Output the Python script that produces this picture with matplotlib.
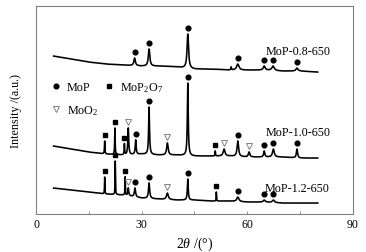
import numpy as np
import matplotlib
matplotlib.use("Agg")
from matplotlib import pyplot as plt
from matplotlib.lines import Line2D

plt.rcParams['font.family'] = ['Liberation Serif', 'DejaVu Serif']
plt.rcParams['mathtext.fontset'] = 'custom'
plt.rcParams['mathtext.rm'] = 'Liberation Serif'
plt.rcParams['mathtext.it'] = 'Liberation Serif:italic'

# 2theta range of the scans
theta_start, theta_end = 5, 80

# baseline anchors (2theta, intensity a.u.)
base_x = [5, 10, 15, 20, 25, 30, 35, 40, 45, 50, 55, 60, 65, 70, 75, 80]
base_08 = [158, 155, 152, 150, 149, 148, 148, 147, 145, 145, 144, 144, 144, 143, 143, 142]
base_10 = [68, 65, 62, 60, 59, 60, 59, 59, 58, 58, 58, 57, 57, 57, 56, 56]
base_12 = [26, 24, 22, 20, 19, 16, 15, 14, 14, 13, 13, 12, 12, 11, 11, 11]

# peaks: position, tip intensity, half width, phase (0 MoP, 1 MoP2O7, 2 MoO2)
pk_08_pos = [28.0, 32.1, 43.1, 55.4, 57.3, 64.8, 67.3, 74.1]
pk_08_tip = [156, 165, 180, 147, 150, 148, 148, 146]
pk_08_w = [0.25, 0.25, 0.25, 0.1, 0.4, 0.3, 0.4, 0.35]
pk_08_phase = [0, 0, 0, -1, 0, 0, 0, 0]

pk_10_pos = [19.5, 22.4, 25.1, 26.2, 28.3, 32.1, 37.3, 43.1, 50.9, 53.4, 57.3, 60.5, 64.8, 67.4, 74.1]
pk_10_tip = [73, 86, 70, 86, 74, 107, 71, 131, 63, 65, 73, 62, 63, 65, 65]
pk_10_w = [0.08, 0.08, 0.08, 0.15, 0.15, 0.15, 0.25, 0.15, 0.08, 0.3, 0.25, 0.25, 0.2, 0.3, 0.2]
pk_10_phase = [1, 1, 1, 2, 0, 0, 2, 0, 1, 2, 0, 2, 0, 0, 0]

pk_12_pos = [19.5, 22.5, 25.3, 26.2, 28.1, 32.1, 37.3, 43.1, 51.2, 57.3, 64.8, 67.4]
pk_12_tip = [37, 53, 37, 26, 26, 31, 21, 35, 22, 17, 14, 14]
pk_12_w = [0.06, 0.06, 0.06, 0.15, 0.2, 0.2, 0.3, 0.15, 0.06, 0.35, 0.3, 0.35]
pk_12_phase = [1, 1, 1, 2, 0, 0, 2, 0, 1, 0, 0, 0]

labels = ['MoP-0.8-650', 'MoP-1.0-650', 'MoP-1.2-650']
label_pos = [(65.1, 163), (65.3, 82), (64.8, 26)]


def pattern(x, bx, by, pos, tip, w):
    base = np.interp(x, bx, by)
    y = base.copy()
    for p, t, hw in zip(pos, tip, w):
        h = t - np.interp(p, bx, by)
        y += h * hw ** 2 / ((x - p) ** 2 + hw ** 2)
    return y


fig = plt.figure(figsize=(3.66, 2.53), dpi=100)
ax = fig.add_axes([0.0984, 0.150, 0.866, 0.822])

x = np.linspace(theta_start, theta_end, 3001)
curves = [
    (base_08, pk_08_pos, pk_08_tip, pk_08_w, pk_08_phase),
    (base_10, pk_10_pos, pk_10_tip, pk_10_w, pk_10_phase),
    (base_12, pk_12_pos, pk_12_tip, pk_12_w, pk_12_phase),
]

styles = {
    0: dict(marker='o', color='black', ms=3.4, mec='black'),
    1: dict(marker='s', color='black', ms=3.0, mec='black'),
    2: dict(marker='v', color='none', ms=4.0, mec='#808080', mew=0.7),
}

for (by, pos, tip, w, phase), lab, lp in zip(curves, labels, label_pos):
    y = pattern(x, base_x, by, pos, tip, w)
    ax.plot(x, y, color='black', lw=1.15)
    for ph, st in styles.items():
        px = [p for p, f in zip(pos, phase) if f == ph]
        py = [t + 6 for t, f in zip(tip, phase) if f == ph]
        ax.plot(px, py, ls='none', **st)
    ax.text(lp[0], lp[1], lab, fontsize=8.7, va='center', ha='left')

handles = [
    Line2D([], [], ls='none', **styles[0]),
    Line2D([], [], ls='none', **styles[2]),
    Line2D([], [], ls='none', **styles[1]),
]
ax.legend(handles, ['MoP', 'MoO$_2$', 'MoP$_2$O$_7$'], ncol=2, frameon=False,
          loc='upper left', bbox_to_anchor=(0.02, 0.685), fontsize=8.7,
          handlelength=0.8, handletextpad=0.5, columnspacing=0.5,
          labelspacing=0.85, borderaxespad=0.3)

ax.set_xlim(0, 90)
ax.set_ylim(0, 208)
ax.set_xticks([0, 30, 60, 90])
ax.set_xticks([15, 45, 75], minor=True)
ax.set_yticks([])
ax.tick_params(axis='x', which='both', direction='in', length=2.5, width=0.6,
               color='#808080', labelsize=8.5, pad=2.5)
for s in ax.spines.values():
    s.set_color('#808080')
    s.set_linewidth(0.8)

ax.set_xlabel(r'2$\it{\theta}$ /(°)', fontsize=10, labelpad=4)
ax.set_ylabel('Intensity /(a.u.)', fontsize=8.7, labelpad=10)

fig.savefig('out.png', dpi=100)
